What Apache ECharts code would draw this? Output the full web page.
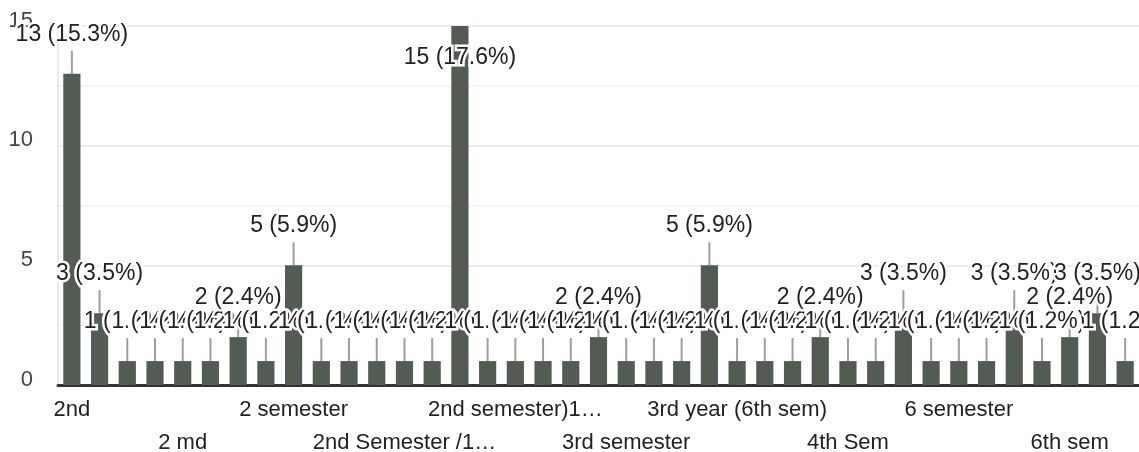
<!DOCTYPE html>
<html>
<head>
<meta charset="utf-8">
<script src="https://cdn.jsdelivr.net/npm/echarts@6/dist/echarts.min.js"></script>
<style>
  html, body { margin: 0; padding: 0; background: #fff; }
  #semesterChart { width: 1139px; height: 452px; }
</style>
</head>
<body>
<div id="semesterChart"></div>
<script>
// answers (only every 4th one is visible on the axis)
const categories = [
  '2nd', '2nd sem', '2 sem', '2nd  sem', '2 md',
  '2nd Sem', '2 Semester', '2 sem.', '2 semester', '2nd sem.',
  '2nd sem ', '2nd Semester', '2nd Semester /1…', '2nd semester (1st year)', '2nd semester',
  '2nd semester ', '2nd semester)1…', '3rd', '3rd Sem', '3rd sem',
  '3rd semester', '3rd Semester', '3rd semester ', '3rd year', '3rd year (6th sem)',
  '4th', '4th sem', '4th semester', '4th Sem', '5th sem',
  '6th semester', '6 sem', '6 semester', '6th', '6th Sem',
  '6th Semester', '6th sem', '6th semester ', '8th sem'
]
const counts = [
  13, 3, 1, 1, 1, 1, 2, 1, 5, 1,
  1, 1, 1, 1, 15, 1, 1, 1, 1, 2,
  1, 1, 1, 5, 1, 1, 1, 2, 1, 1,
  3, 1, 1, 1, 3, 1, 2, 3, 1
]
const yTicks = [0, 5, 10, 15]

const total = counts.reduce((a, b) => a + b, 0)
const maxCount = Math.max(...counts)
const fontFamily = "'Liberation Sans', Arial, sans-serif"

const chart = echarts.init(document.getElementById('semesterChart'))

const barData = counts.map(v => {
  if (v === maxCount) {
    // no room above the tallest bar, label goes inside
    return { value: v, label: { position: 'insideTop', distance: 20 } }
  }
  return v
})

chart.setOption({
  animation: false,
  grid: { left: 58, right: 0, top: 26, bottom: 67, outerBoundsMode: 'none' },
  xAxis: {
    type: 'category',
    data: categories,
    axisTick: { show: false },
    axisLine: { lineStyle: { color: '#333', width: 3 } },
    axisLabel: {
      interval: 3,
      margin: 8,
      color: '#222',
      fontSize: 22,
      fontFamily: fontFamily,
      lineHeight: 33,
      formatter: (val, idx) => (Math.floor(idx / 4) % 2 === 1 ? '\n' + val : val)
    }
  },
  yAxis: {
    type: 'value',
    min: yTicks[0],
    max: yTicks[yTicks.length - 1],
    interval: 5,
    axisLine: { show: true, lineStyle: { color: '#ebebeb', width: 2 } },
    axisTick: { show: false },
    axisLabel: {
      margin: 25,
      color: '#444',
      fontSize: 22,
      fontFamily: fontFamily,
      verticalAlign: 'bottom',
      lineHeight: 11
    },
    splitLine: { lineStyle: { color: '#ebebeb', width: 2 } },
    minorTick: { show: false, splitNumber: 2 },
    minorSplitLine: { show: true, lineStyle: { color: '#f4f4f4', width: 2 } }
  },
  series: [
    {
      type: 'bar',
      data: barData,
      barWidth: '62%',
      itemStyle: { color: '#535c52' },
      label: {
        show: true,
        position: 'top',
        distance: 28,
        color: '#222',
        fontSize: 23,
        fontFamily: fontFamily,
        textBorderColor: '#fff',
        textBorderWidth: 5,
        formatter: p => p.value + ' (' + (p.value / total * 100).toFixed(1) + '%)'
      }
    },
    {
      // leader lines between bar tops and their labels
      type: 'custom',
      data: counts.map((v, i) => [i, v]),
      renderItem: (params, api) => {
        const v = api.value(1)
        const p = api.coord([api.value(0), v])
        const inside = v === maxCount
        return {
          type: 'line',
          shape: inside
            ? { x1: p[0], y1: p[1] + 2, x2: p[0], y2: p[1] + 17 }
            : { x1: p[0], y1: p[1], x2: p[0], y2: p[1] - 23 },
          style: { stroke: inside ? '#b0b0b0' : '#9e9e9e', lineWidth: 2 }
        }
      },
      silent: true
    }
  ]
})
</script>
</body>
</html>
